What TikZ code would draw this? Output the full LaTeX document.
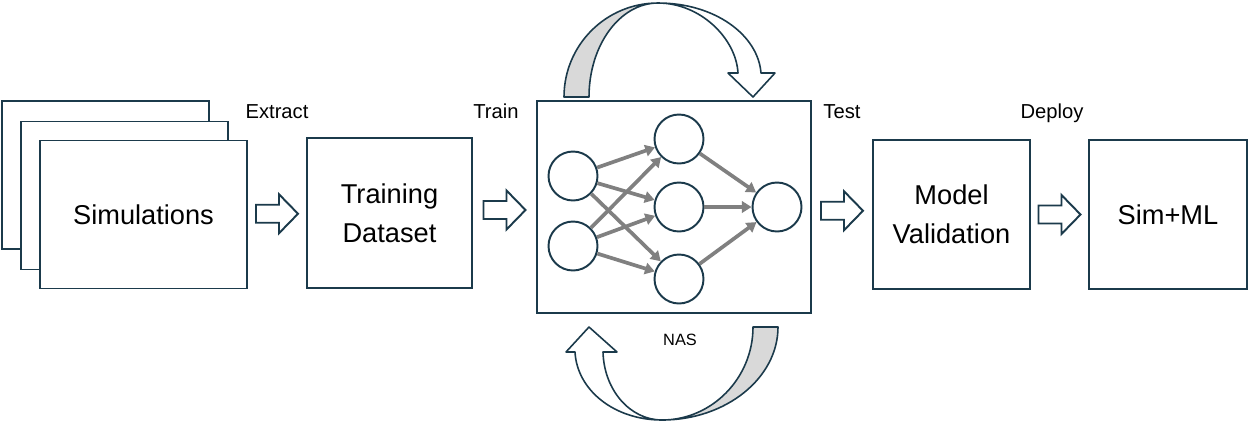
\documentclass[tikz,border=0pt]{standalone}
\usepackage{fontspec}
\setmainfont{Liberation Sans}
\usetikzlibrary{arrows.meta,calc}

\definecolor{boxline}{RGB}{27,58,75}
\definecolor{linkgray}{RGB}{128,128,128}
\definecolor{backshade}{RGB}{217,217,217}

\tikzset{
  box/.style={draw=boxline, line width=1.1pt, fill=white, inner sep=0pt, align=center,
    font=\fontsize{15.5}{22}\selectfont},
  neuron/.style={circle, draw=boxline, line width=1.1pt, minimum size=0.98cm, inner sep=0pt},
  link/.style={draw=linkgray, line width=2.1pt, -{Triangle[length=5.5pt,width=6.5pt]}},
  steplabel/.style={anchor=base, font=\fontsize{11.5}{14}\selectfont},
  loopband/.style={draw=boxline, line width=0.9pt, line join=round},
  blockarrow/.pic={
    \draw[boxline, line width=1.1pt, fill=white]
      (-21,-9) -- (2,-9) -- (2,-19.5) -- (21,0) -- (2,19.5) -- (2,9) -- (-21,9) -- cycle;
  }
}

\begin{document}
\begin{tikzpicture}[x=0.02cm, y=-0.02cm]
\useasboundingbox (0,0) rectangle (1250,424);

% stack of simulation runs
\node [box, minimum width=4.14cm, minimum height=2.96cm] (sim3) at (105.5,175) {};
\node [box, minimum width=4.14cm, minimum height=2.96cm] (sim2) at (124.5,195.5) {};
\node [box, minimum width=4.14cm, minimum height=2.96cm] (sim1) at (143.5,214.5) {Simulations};

\node [box, minimum width=3.3cm, minimum height=3.0cm] (data) at (389.5,213) {Training\\Dataset};

% network box
\node [box, minimum width=5.48cm, minimum height=4.24cm] (nn) at (674,207) {};

\node [neuron] (in1) at (573,176) {};
\node [neuron] (in2) at (573,246) {};
\node [neuron] (h1) at (679,139) {};
\node [neuron] (h2) at (679,207) {};
\node [neuron] (h3) at (679,279) {};
\node [neuron] (out) at (777,207) {};

\foreach \i in {in1,in2}{
  \foreach \h in {h1,h2,h3}{
    \draw [link] (\i) -- (\h);
  }
}
\foreach \h in {h1,h2,h3}{
  \draw [link] (\h) -- (out);
}

\node [box, minimum width=3.14cm, minimum height=2.98cm] (valid) at (951.5,214.5) {Model\\Validation};
\node [box, minimum width=3.16cm, minimum height=2.98cm] (simml) at (1168,214.5) {Sim+ML};

% block arrows between stages
\pic at ($(sim1.east)!0.5!(data.west)$) {blockarrow};
\pic at ($(data.east)!0.5!(nn.west)$) {blockarrow};
\pic at ($(nn.east)!0.5!(valid.west)$) {blockarrow};
\pic at ($(valid.east)!0.5!(simml.west)$) {blockarrow};

\node [steplabel] at (277,118) {Extract};
\node [steplabel] at (496,118) {Train};
\node [steplabel] at (842,118) {Test};
\node [steplabel] at (1052,118) {Deploy};
\node [anchor=base, font=\fontsize{9.3}{11}\selectfont] at (680,345) {NAS};

% upper loop arrow
\draw [loopband, fill=backshade] (564,97) .. controls (564,45) and (606,3) .. (658,3)
  .. controls (620,3) and (589,45) .. (589,97) -- cycle;
\draw [loopband, fill=white] (658,3) .. controls (715,3) and (758,35) .. (761,73)
  -- (775,73) -- (753,97) -- (728,73) -- (738,73)
  .. controls (736,38) and (700,3) .. (658,3) -- cycle;

% lower loop arrow
\draw [loopband, fill=backshade] (778,327) .. controls (778,378) and (726,420) .. (662,420)
  .. controls (712,420) and (753,378) .. (753,327) -- cycle;
\draw [loopband, fill=white] (662,420) .. controls (614,420) and (577,390) .. (575,352)
  -- (566,352) -- (589,327) -- (617,352) -- (603,352)
  .. controls (604,390) and (630,420) .. (662,420) -- cycle;

\end{tikzpicture}
\end{document}
